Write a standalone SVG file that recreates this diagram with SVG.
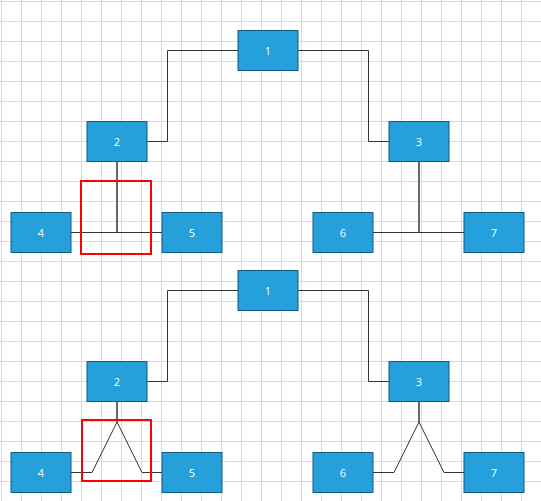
<svg xmlns="http://www.w3.org/2000/svg" width="541" height="501" viewBox="0 0 541 501">
<style>
.node rect{fill:#26a0da;stroke:#0f5a82;stroke-width:1}
.node text{fill:#ffffff;font-family:"Open Sans","Noto Sans",sans-serif;font-size:11px;text-anchor:middle;dominant-baseline:central}
.c{fill:none;stroke:#333333;stroke-width:1}
.t{fill:none;stroke:#666666;stroke-width:2}
.hl{fill:none;stroke:#ff0000;stroke-width:2}
</style>
<defs>
<pattern id="grid" x="1" y="1" width="20" height="20" patternUnits="userSpaceOnUse">
<path d="M0.5 0V20M0 0.5H20" stroke="#dadada" stroke-width="1" fill="none"/>
</pattern>
</defs>
<rect width="541" height="501" fill="#ffffff"/>
<rect width="541" height="501" fill="url(#grid)"/>
<g id="connectors">
<path class="c" d="M238 50.5H167.5V141.5H147"/>
<path class="c" d="M298 50.5H368.5V141.5H389"/>
<path class="t" d="M117 161V232"/>
<path class="c" d="M71 232.5H162"/>
<path class="t" d="M419 161V232"/>
<path class="c" d="M373 232.5H464"/>
<path class="c" d="M238 290.5H167.5V381.5H147"/>
<path class="c" d="M298 290.5H368.5V381.5H389"/>
<path class="t" d="M117 401V422"/>
<path class="c" d="M71 472.5H92L117 422L142 472.5H162"/>
<path class="t" d="M419 401V422"/>
<path class="c" d="M373 472.5H394L419 422L444 472.5H464"/>
</g>
<g id="node1a" class="node"><rect x="238" y="30.5" width="60" height="40"/><text x="268" y="50.5">1</text></g>
<g id="node2a" class="node"><rect x="87" y="121.5" width="60" height="40"/><text x="117" y="141.5">2</text></g>
<g id="node3a" class="node"><rect x="389" y="121.5" width="60" height="40"/><text x="419" y="141.5">3</text></g>
<g id="node4a" class="node"><rect x="11" y="212.5" width="60" height="40"/><text x="41" y="232.5">4</text></g>
<g id="node5a" class="node"><rect x="162" y="212.5" width="60" height="40"/><text x="192" y="232.5">5</text></g>
<g id="node6a" class="node"><rect x="313" y="212.5" width="60" height="40"/><text x="343" y="232.5">6</text></g>
<g id="node7a" class="node"><rect x="464" y="212.5" width="60" height="40"/><text x="494" y="232.5">7</text></g>
<g id="node1b" class="node"><rect x="238" y="270.5" width="60" height="40"/><text x="268" y="290.5">1</text></g>
<g id="node2b" class="node"><rect x="87" y="361.5" width="60" height="40"/><text x="117" y="381.5">2</text></g>
<g id="node3b" class="node"><rect x="389" y="361.5" width="60" height="40"/><text x="419" y="381.5">3</text></g>
<g id="node4b" class="node"><rect x="11" y="452.5" width="60" height="40"/><text x="41" y="472.5">4</text></g>
<g id="node5b" class="node"><rect x="162" y="452.5" width="60" height="40"/><text x="192" y="472.5">5</text></g>
<g id="node6b" class="node"><rect x="313" y="452.5" width="60" height="40"/><text x="343" y="472.5">6</text></g>
<g id="node7b" class="node"><rect x="464" y="452.5" width="60" height="40"/><text x="494" y="472.5">7</text></g>
<g id="highlights">
<rect class="hl" x="81" y="181" width="70" height="73"/>
<rect class="hl" x="82" y="420" width="69" height="61"/>
</g>
</svg>
